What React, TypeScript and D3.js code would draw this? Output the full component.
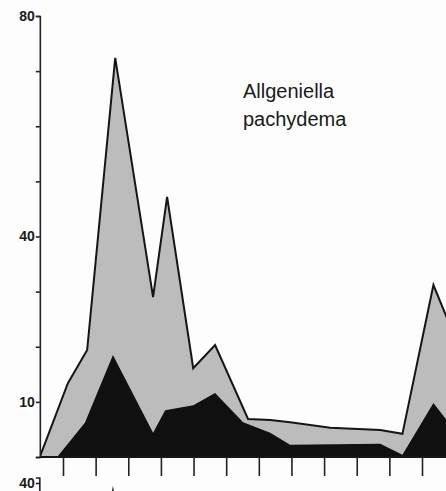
import React, { useRef, useEffect } from "react";
import { select, scaleLinear, area, line, axisLeft, axisBottom, curveLinear, range } from "d3";

// sample positions (axis tick units) and abundances
const totalX = [0.29, 1.15, 1.74, 2.6, 3.76, 4.19, 4.99, 5.66, 6.67, 7.35, 7.96, 9.19, 10.72, 11.4, 12.35, 13.18];
const totalV = [0, 13.4, 19.4, 72.4, 29.0, 47.2, 16.1, 20.3, 6.9, 6.7, 6.3, 5.3, 4.9, 4.2, 31.2, 19.2];

const darkX = [0.82, 1.67, 2.53, 3.76, 4.13, 4.99, 5.66, 6.52, 7.35, 7.96, 10.72, 11.4, 12.35, 13.18];
const darkV = [0, 6.2, 18.5, 4.4, 8.5, 9.4, 11.6, 6.3, 4.4, 2.2, 2.4, 0.4, 9.8, 3.4];

const xTicks = range(1, 14);
const yTicks = [0, 10, 20, 30, 40, 50, 60, 70, 80];
const yLabels = [80, 40, 10];

const species = ["Allgeniella", "pachydema"];

// the top of the next panel down, just visible at the bottom edge
const lowerX = [2.25, 2.53, 2.8];
const lowerV = [30, 39.5, 30];
const lowerTicks = [40];

const App = () => {
  const svgRef = useRef<SVGSVGElement>(null);
  const W = 446;
  const H = 491;

  useEffect(() => {
    const svg = select(svgRef.current);
    svg.selectAll("*").remove();

    const xScale = scaleLinear().domain([1, 12]).range([63, 422]);
    const yScale = scaleLinear().domain([0, 80]).range([457, 16]);
    const originX = xScale(0.29);

    svg.append("rect").attr("width", W).attr("height", H).attr("fill", "#fdfdfd");

    const clip = svg.append("defs").append("clipPath").attr("id", "plotclip");
    clip.append("rect").attr("x", originX).attr("y", 0).attr("width", W - originX).attr("height", 458);

    const g = svg.append("g").attr("clip-path", "url(#plotclip)");

    const pts = (xs: number[], vs: number[]) => xs.map((x, i) => [x, vs[i]] as [number, number]);

    const areaGen = area<[number, number]>()
      .x((d) => xScale(d[0]))
      .y0(yScale(0))
      .y1((d) => yScale(d[1]))
      .curve(curveLinear);

    // grey total
    g.append("path").datum(pts(totalX, totalV)).attr("fill", "#bcbcbc").attr("d", areaGen);

    // black part
    g.append("path").datum(pts(darkX, darkV)).attr("fill", "#101010").attr("d", areaGen);

    // outline of total
    const lineGen = line<[number, number]>()
      .x((d) => xScale(d[0]))
      .y((d) => yScale(d[1]));
    g.append("path")
      .datum(pts(totalX, totalV))
      .attr("fill", "none")
      .attr("stroke", "#151515")
      .attr("stroke-width", 2)
      .attr("stroke-linejoin", "miter")
      .attr("d", lineGen);

    // baseline
    svg.append("line")
      .attr("x1", originX).attr("x2", W)
      .attr("y1", yScale(0)).attr("y2", yScale(0))
      .attr("stroke", "#151515").attr("stroke-width", 2);

    // x ticks
    svg.append("g")
      .attr("transform", `translate(0,${yScale(0)})`)
      .call(axisBottom(xScale).tickValues(xTicks).tickSize(19).tickFormat(() => ""))
      .call((a) => a.select(".domain").remove())
      .call((a) => a.selectAll("line").attr("stroke", "#222").attr("stroke-width", 1.6));

    // y axis
    const fmt = (d: any) => (yLabels.includes(d) ? String(d) : "");
    svg.append("g")
      .attr("transform", `translate(${originX},0)`)
      .call(axisLeft(yScale).tickValues(yTicks).tickSize(4).tickPadding(1).tickFormat(fmt))
      .call((a) => a.select(".domain").attr("stroke", "#222").attr("stroke-width", 1.6))
      .call((a) => a.selectAll("line").attr("stroke", "#222").attr("stroke-width", 1.6))
      .call((a) =>
        a.selectAll("text")
          .attr("font-family", "'Liberation Sans', Arial, sans-serif")
          .attr("font-size", 14)
          .attr("font-weight", "bold")
          .attr("fill", "#1a1a1a")
      );

    // species name
    const label = svg.append("text")
      .attr("x", 243)
      .attr("y", 98)
      .attr("font-family", "'Liberation Sans', Arial, sans-serif")
      .attr("font-size", 20)
      .attr("fill", "#1a1a1a");
    species.forEach((s, i) => {
      label.append("tspan").attr("x", 243).attr("dy", i === 0 ? 0 : 28).text(s);
    });

    // next panel peeking in at the bottom
    const yLower = scaleLinear().domain([0, 40]).range([483 + 40 * 5.51, 483]);
    svg.append("path")
      .datum(pts(lowerX, lowerV))
      .attr("fill", "#101010")
      .attr("d", areaGen.y0(H + 20).y1((d) => yLower(d[1])) as any);
    svg.append("g")
      .attr("transform", `translate(${originX},0)`)
      .call(axisLeft(yLower).tickValues(lowerTicks).tickSize(4).tickPadding(1))
      .call((a) => a.select(".domain").attr("d", `M-4,478H0V${H + 10}`).attr("stroke", "#222").attr("stroke-width", 1.6))
      .call((a) => a.selectAll("line").attr("stroke", "#222").attr("stroke-width", 1.6))
      .call((a) =>
        a.selectAll("text")
          .attr("font-family", "'Liberation Sans', Arial, sans-serif")
          .attr("font-size", 14)
          .attr("font-weight", "bold")
          .attr("fill", "#1a1a1a")
      );
  }, []);

  return (
    <svg
      ref={svgRef}
      width={W}
      height={H}
      style={{ position: "absolute", left: 0, top: 0, display: "block" }}
    />
  );
};

export default App;
